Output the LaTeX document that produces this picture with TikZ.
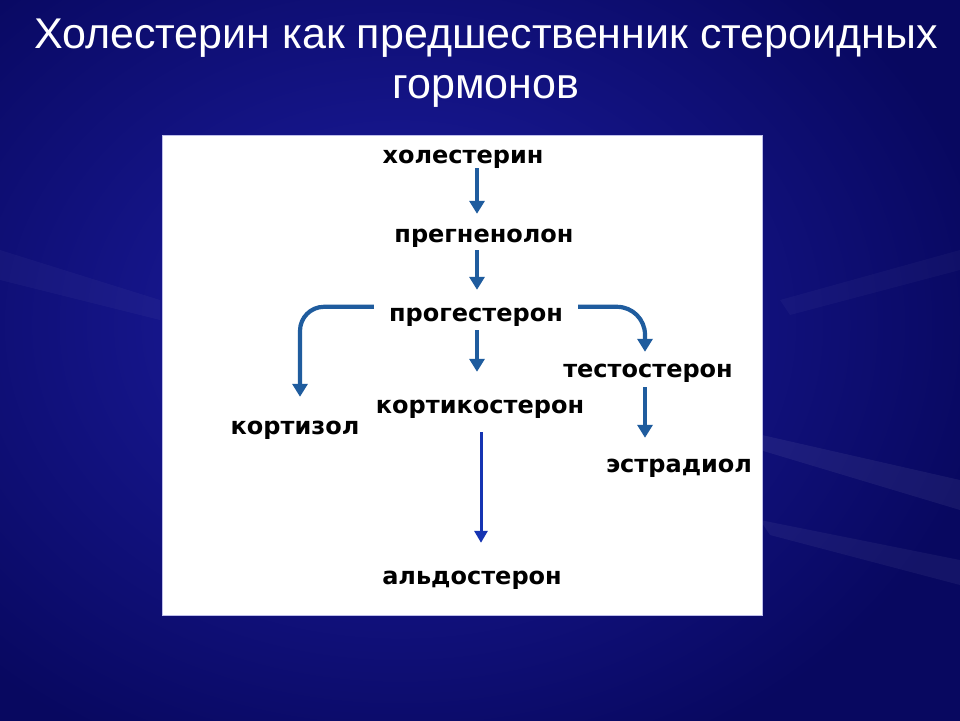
\documentclass[tikz,border=0pt]{standalone}
\usepackage{fontspec}
\setmainfont{Liberation Sans}
\newfontfamily\lblfont{DejaVu Sans}
\usetikzlibrary{arrows.meta,calc}
\definecolor{bgdark}{RGB}{8,8,96}
\definecolor{bglight}{RGB}{30,30,165}
\definecolor{steel}{RGB}{31,92,158}
\definecolor{royal}{RGB}{22,52,178}
\definecolor{panelrim}{RGB}{190,190,235}
\tikzset{
  titletext/.style={font=\fontsize{43}{50}\selectfont, text=white, inner sep=0pt, anchor=base},
  lbl/.style={font=\lblfont\bfseries\fontsize{24}{28}\selectfont, text=black, inner sep=0pt, anchor=base, text height=14pt, text depth=0pt},
  arr/.style={draw=steel, line width=4.2pt, -{Triangle[width=15pt,length=13pt]}},
  arrlong/.style={draw=royal, line width=3pt, -{Triangle[width=13pt,length=12pt]}}
}
\begin{document}
\begin{tikzpicture}[x=1pt,y=-1pt]
\useasboundingbox (0,0) rectangle (960,720);
% background
\fill[bgdark] (0,0) rectangle (960,720);
\shade[inner color=bglight, outer color=bgdark] (-200,-150) rectangle (1000,800);
\fill[white, opacity=0.06] (740,430) -- (960,480) -- (960,510) -- (760,450) -- cycle;
\fill[white, opacity=0.05] (760,520) -- (960,560) -- (960,585) -- (770,535) -- cycle;
\fill[white, opacity=0.03] (0,250) -- (160,300) -- (160,320) -- (0,280) -- cycle;
\fill[white, opacity=0.03] (780,300) -- (960,250) -- (960,270) -- (790,315) -- cycle;
% title
\node[titletext] (t1) at (486,48) {Холестерин как предшественник стероидных};
\node[titletext] (t2) at (486,98) {гормонов};
% panel
\fill[white, draw=panelrim, line width=1pt] (162,135) rectangle (762,615);
% labels
\node[lbl] (chol) at (463,163) {холестерин};
\node[lbl] (preg) at (484,242) {прегненолон};
\node[lbl] (prog) at (476,321) {прогестерон};
\node[lbl] (testo) at (648,377) {тестостерон};
\node[lbl] (kcs) at (480,413) {кортикостерон};
\node[lbl] (kzol) at (295,434) {кортизол};
\node[lbl] (estr) at (679,472) {эстрадиол};
\node[lbl] (aldo) at (472,584) {альдостерон};
\coordinate (ax) at (477,0);
% arrows
\draw[arr, shorten <=5pt, shorten >=14pt] (chol.south -| ax) -- (preg.north -| ax);
\draw[arr, shorten <=8pt, shorten >=17pt] (preg.south -| ax) -- (prog.north -| ax);
\draw[arr, shorten <=9pt, shorten >=27pt] (prog.south -| ax) -- (kcs.north -| ax);
\draw[arr, rounded corners=24pt, shorten >=23pt] ([xshift=-15pt]prog.north west) -| ([xshift=5pt]kzol.north);
\draw[arr, rounded corners=28pt, shorten >=11pt] ([xshift=15pt]prog.north east) -| ([xshift=-3pt]testo.north);
\draw[arr, shorten <=10pt, shorten >=20pt] ([xshift=-3pt]testo.south) -- ([xshift=-3pt]testo.south |- estr.north);
\draw[arrlong, shorten <=19pt, shorten >=27pt] ([xshift=1pt]kcs.south) -- ([xshift=1pt]kcs.south |- aldo.north);
\end{tikzpicture}
\end{document}
